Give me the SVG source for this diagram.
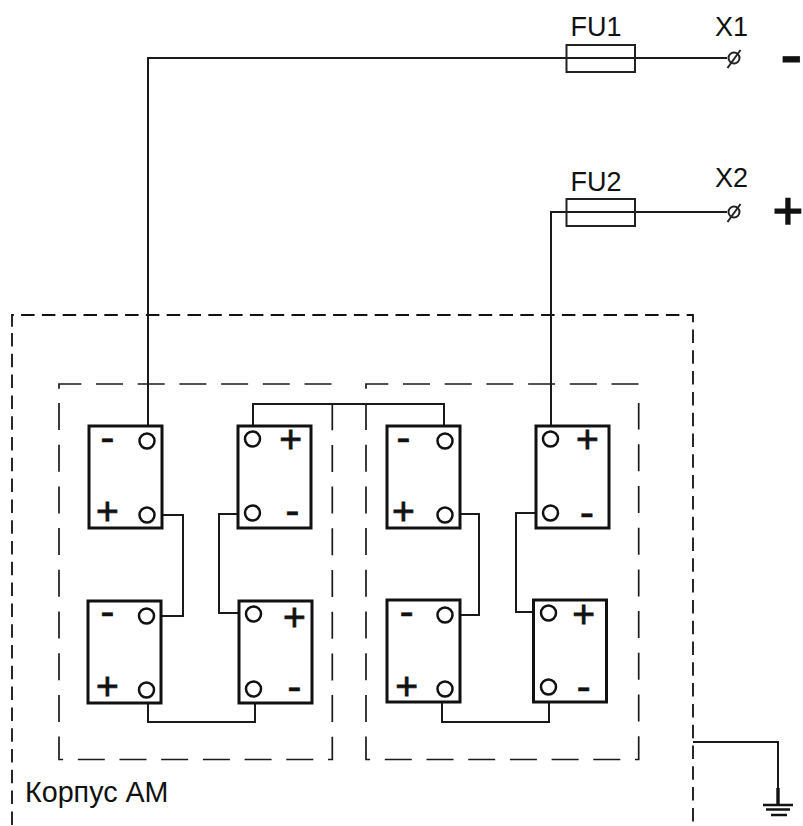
<svg xmlns="http://www.w3.org/2000/svg" width="803" height="826" viewBox="0 0 803 826">
<style>
.box{fill:#fff;stroke:#111;stroke-width:3}
.t{fill:#fff;stroke:#111;stroke-width:2.5}
.w{fill:none;stroke:#1a1a1a;stroke-width:2}
.d{fill:none;stroke:#1a1a1a;stroke-width:1.7;stroke-dasharray:27 14.7}
.o{fill:none;stroke:#111;stroke-width:1.8;stroke-dasharray:13.5 7.3}
.f{fill:none;stroke:#222;stroke-width:2}
text{font-family:"Liberation Sans",Arial,sans-serif;fill:#111}
.l{font-size:27px}
.k{font-size:28.7px}
.p{font-size:39px;text-anchor:middle;stroke:#111;stroke-width:.8}
.m{font-size:43px;text-anchor:middle;stroke:#111;stroke-width:.5}
</style>
<rect width="803" height="826" fill="#fff"/>
<g id="enclosures">
<path class="o" d="M12 326.7V315H693V826"/>
<path class="o" d="M12 333V826"/>
<path class="d" d="M59 388.7V384H332.3V390"/>
<path class="d" d="M59 403V759.5H332.3V403"/>
<path class="d" d="M366 388.7V384H638.7V390"/>
<path class="d" d="M366 403V759.5H638.7V403"/>
</g>
<g id="connectors">
<path class="w" d="M148 433V58H727"/>
<path class="w" d="M551 432V212H727"/>
<path class="w" d="M253 432V404H444V433"/>
<path class="w" d="M154 515H183V616H154"/>
<path class="w" d="M245 514H219V613H246"/>
<path class="w" d="M148 698V722H255V696"/>
<path class="w" d="M452 514H479V615H452"/>
<path class="w" d="M543 513H516V612H541"/>
<path class="w" d="M442 697V722H549V695"/>
<path class="w" d="M693 742H778V805"/>
</g>
<g id="FU1"><rect class="f" x="566.5" y="45" width="68.5" height="27"/><text class="l" x="570.5" y="36">FU1</text></g>
<g id="FU2"><rect class="f" x="566.5" y="199" width="68.5" height="27"/><text class="l" x="570.5" y="191">FU2</text></g>
<g id="X1"><circle class="f" cx="734" cy="58" r="5.5"/><path class="f" d="M727.5 68L740.5 50"/><text class="l" x="715" y="36">X1</text><text x="791.4" y="78.4" font-size="68" text-anchor="middle" stroke="#111" stroke-width=".8">-</text></g>
<g id="X2"><circle class="f" cx="734" cy="212" r="5.5"/><path class="f" d="M727.5 222L740.5 204"/><text class="l" x="715" y="187">X2</text><text x="788" y="229.3" font-size="52" text-anchor="middle" stroke="#111" stroke-width="1.6">+</text></g>
<g id="B1"><rect class="box" x="89" y="426" width="73" height="102"/><circle class="t" cx="147" cy="441" r="7.5"/><circle class="t" cx="147" cy="515" r="7.5"/><text class="m" x="107.3" y="451.6">-</text><text class="p" x="107.3" y="524.3">+</text></g>
<g id="B2"><rect class="box" x="238" y="426" width="73" height="102"/><circle class="t" cx="252.5" cy="439" r="7.5"/><circle class="t" cx="252.5" cy="513" r="7.5"/><text class="p" x="290.7" y="452.3">+</text><text class="m" x="292.3" y="524.9">-</text></g>
<g id="B3"><rect class="box" x="88" y="601" width="73" height="102"/><circle class="t" cx="146.5" cy="616" r="7.5"/><circle class="t" cx="146.5" cy="690" r="7.5"/><text class="m" x="107.3" y="625.9">-</text><text class="p" x="107.3" y="698.7">+</text></g>
<g id="B4"><rect class="box" x="239" y="601" width="73" height="102"/><circle class="t" cx="253.5" cy="614" r="7.5"/><circle class="t" cx="253.5" cy="689" r="7.5"/><text class="p" x="294.3" y="630.3">+</text><text class="m" x="294.3" y="700.9">-</text></g>
<g id="B5"><rect class="box" x="387" y="426" width="73" height="102"/><circle class="t" cx="445" cy="441" r="7.5"/><circle class="t" cx="445" cy="515" r="7.5"/><text class="m" x="403.3" y="451.6">-</text><text class="p" x="403.3" y="524.3">+</text></g>
<g id="B6"><rect class="box" x="536" y="426" width="73" height="102"/><circle class="t" cx="550.5" cy="439" r="7.5"/><circle class="t" cx="550.5" cy="513" r="7.5"/><text class="p" x="587.3" y="452.3">+</text><text class="m" x="587" y="526.9">-</text></g>
<g id="B7"><rect class="box" x="387" y="600" width="73" height="102"/><circle class="t" cx="445" cy="615" r="7.5"/><circle class="t" cx="445" cy="689" r="7.5"/><text class="m" x="406.7" y="625.9">-</text><text class="p" x="406.7" y="698.7">+</text></g>
<g id="B8"><rect class="box" x="533.5" y="600" width="73" height="102"/><circle class="t" cx="548.5" cy="613" r="7.5"/><circle class="t" cx="548.5" cy="687" r="7.5"/><text class="p" x="583.7" y="627">+</text><text class="m" x="583.7" y="700.9">-</text></g>
<g id="ground"><path d="M778 788V805" stroke="#111" stroke-width="3.4"/><path d="M763 805H793M766 809.5H790M771 815H787" stroke="#111" stroke-width="2.4"/></g>
<g id="label"><text class="k" x="25" y="802">Корпус АМ</text></g>
</svg>
